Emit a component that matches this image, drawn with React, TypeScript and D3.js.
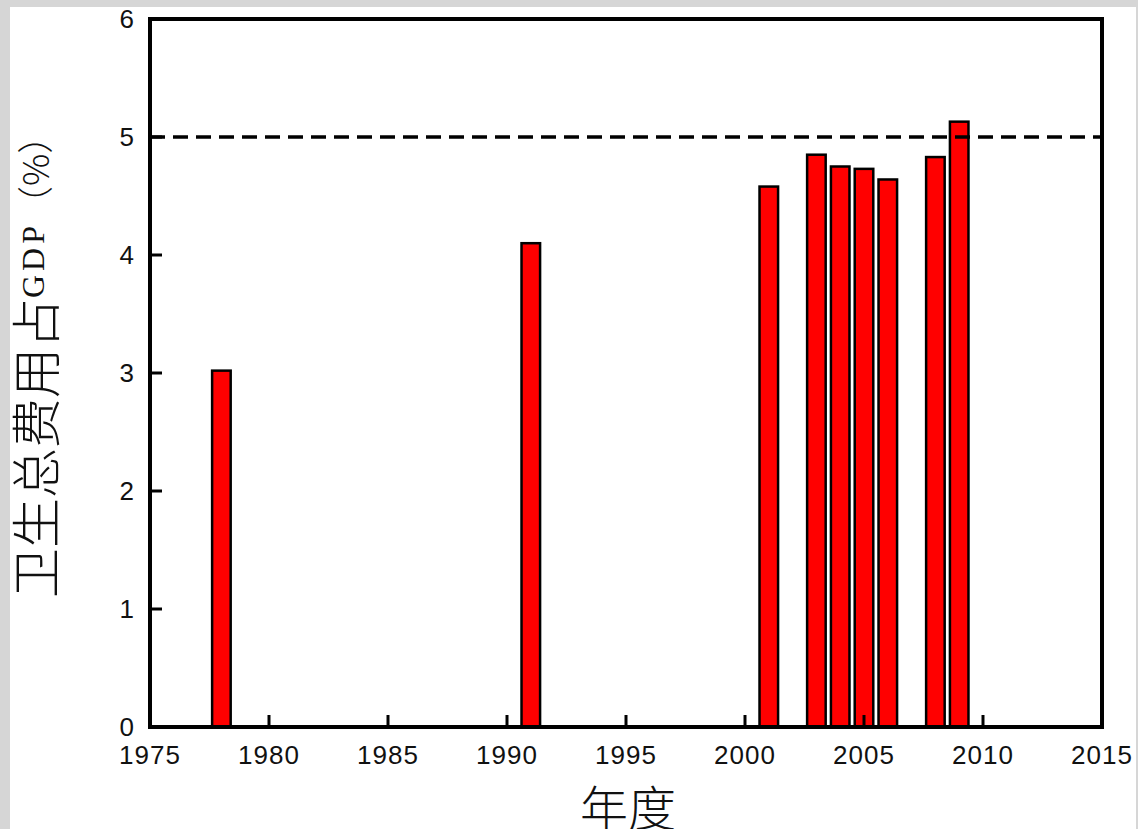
import React from "react";
import * as d3 from "d3";

// Share of total health expenditure in GDP (%), by year
const years = [1978, 1991, 2001, 2003, 2004, 2005, 2006, 2008, 2009];
const values = [3.02, 4.1, 4.58, 4.85, 4.75, 4.73, 4.64, 4.83, 5.13];
const xTicks = [1975, 1980, 1985, 1990, 1995, 2000, 2005, 2010, 2015];
const yTicks = [0, 1, 2, 3, 4, 5, 6];
const refLine = 5;

const W = 1138;
const H = 829;
const margin = { top: 19, right: 36, bottom: 102, left: 150 };

export default function App() {
    const x = d3
        .scaleLinear()
        .domain([1975, 2015])
        .range([margin.left, W - margin.right]);
    const y = d3
        .scaleLinear()
        .domain([0, 6])
        .range([H - margin.bottom, margin.top]);

    const barW = x(1975.78) - x(1975);
    const tickLen = 12;
    const sans = "'Liberation Sans', Arial, sans-serif";
    const cjk = "'Noto Sans CJK SC', sans-serif";

    return (
        <svg
            width={W}
            height={H}
            style={{ position: "absolute", left: 0, top: 0 }}
        >
            {/* grey frame around the picture */}
            <rect x={0} y={0} width={W} height={H} fill="#d6d6d6" />
            <rect x={10} y={7} width={1126} height={H - 7} fill="#ffffff" />

            {/* bars */}
            {years.map((yr, i) => (
                <rect
                    key={yr}
                    x={x(yr) - barW / 2}
                    y={y(values[i])}
                    width={barW}
                    height={y(0) - y(values[i])}
                    fill="#ff0000"
                    stroke="#000"
                    strokeWidth={2.5}
                />
            ))}

            {/* 5% reference line */}
            <line
                x1={x(1975)}
                x2={x(2015)}
                y1={y(refLine)}
                y2={y(refLine)}
                stroke="#000"
                strokeWidth={3.5}
                strokeDasharray="15 8"
            />

            {/* inward ticks */}
            {xTicks.map((t) => (
                <line
                    key={"xt" + t}
                    x1={x(t)}
                    x2={x(t)}
                    y1={y(0)}
                    y2={y(0) - tickLen}
                    stroke="#000"
                    strokeWidth={3}
                />
            ))}
            {yTicks.map((t) => (
                <line
                    key={"yt" + t}
                    x1={x(1975)}
                    x2={x(1975) + tickLen}
                    y1={y(t)}
                    y2={y(t)}
                    stroke="#000"
                    strokeWidth={3}
                />
            ))}

            {/* plot frame */}
            <rect
                x={x(1975)}
                y={y(6)}
                width={x(2015) - x(1975)}
                height={y(0) - y(6)}
                fill="none"
                stroke="#000"
                strokeWidth={4}
            />

            {/* tick labels */}
            {xTicks.map((t) => (
                <text
                    key={"xl" + t}
                    x={x(t)}
                    y={y(0) + 37}
                    textAnchor="middle"
                    fontFamily={sans}
                    fontSize={26}
                    letterSpacing={1}
                    fill="#111"
                >
                    {t}
                </text>
            ))}
            {yTicks.map((t) => (
                <text
                    key={"yl" + t}
                    x={x(1975) - 16}
                    y={y(t)}
                    textAnchor="end"
                    dominantBaseline="central"
                    fontFamily={sans}
                    fontSize={26}
                    fill="#111"
                >
                    {t}
                </text>
            ))}

            {/* axis titles */}
            <text
                x={628}
                y={826}
                textAnchor="middle"
                fontFamily={cjk}
                fontWeight={300}
                fontSize={48}
                fill="#111"
            >
                年度
            </text>
            <text
                transform="translate(33, 598) rotate(-90)"
                dominantBaseline="central"
                fill="#111"
            >
                <tspan fontFamily={cjk} fontWeight={300} fontSize={50}>
                    卫生总费用占
                </tspan>
                <tspan
                    fontFamily="'Liberation Serif', 'Times New Roman', serif"
                    fontSize={32}
                    letterSpacing={4}
                >
                    GDP
                </tspan>
                <tspan fontFamily={cjk} fontWeight={300} fontSize={36}>
                    （%）
                </tspan>
            </text>
        </svg>
    );
}
